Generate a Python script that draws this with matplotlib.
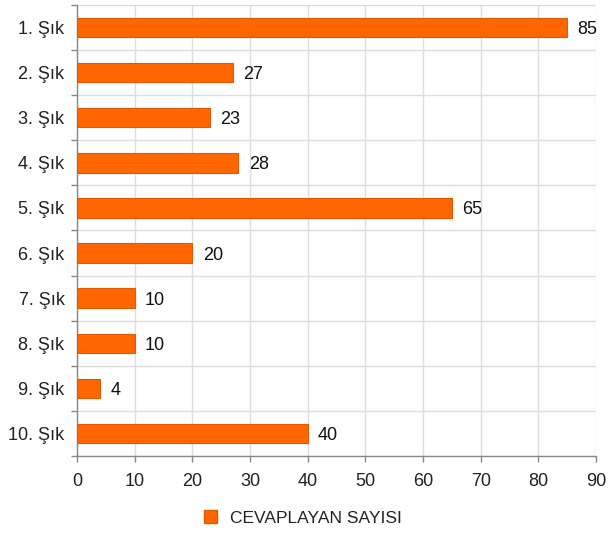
import matplotlib
matplotlib.use("Agg")
import matplotlib.pyplot as plt
import numpy as np
from matplotlib.patches import Patch

plt.rcParams['font.family'] = ['Liberation Sans', 'DejaVu Sans']

categories = ["1. Şık", "2. Şık", "3. Şık", "4. Şık", "5. Şık",
              "6. Şık", "7. Şık", "8. Şık", "9. Şık", "10. Şık"]
values = [85, 27, 23, 28, 65, 20, 10, 10, 4, 40]
xticks = [0, 10, 20, 30, 40, 50, 60, 70, 80, 90]
series_name = "CEVAPLAYAN SAYISI"

bar_color = "#FF6600"
edge_color = "#E05A00"
fs = 13

fig = plt.figure(figsize=(6.09, 5.33), dpi=100)
ax = fig.add_axes([77/609, 1-456/533, (596-77)/609, (456-5)/533])

y = np.arange(len(categories))
ax.barh(y, values, height=0.43, color=bar_color, edgecolor=edge_color, linewidth=0.8, zorder=3)
for yi, v in zip(y, values):
    ax.text(v + 1.8, yi, str(v), va='center_baseline', ha='left', fontsize=fs, color='#111111')

ax.set_ylim(len(categories) - 0.5, -0.5)
ax.set_xlim(0, 90)
ax.set_xticks(xticks)
ax.set_yticks(y)
ax.set_yticklabels(categories)
ax.set_yticks(np.arange(-0.5, len(categories) + 0.5, 1), minor=True)

ax.tick_params(axis='y', which='major', length=0, pad=9, labelsize=fs, labelcolor='#222222')
ax.tick_params(axis='y', which='minor', length=4, color='#888888', width=1)
ax.tick_params(axis='x', which='major', length=4, color='#888888', width=1, pad=8,
               labelsize=fs, labelcolor='#222222')

ax.grid(axis='x', which='major', color='#dddddd', linewidth=1, zorder=0)
ax.grid(axis='y', which='minor', color='#dddddd', linewidth=1, zorder=0)
ax.set_axisbelow(True)

for s in ['top', 'right']:
    ax.spines[s].set_visible(False)
for s in ['left', 'bottom']:
    ax.spines[s].set_color('#888888')
    ax.spines[s].set_linewidth(1)

handle = Patch(facecolor=bar_color, edgecolor=edge_color, label=series_name)
fig.legend(handles=[handle], loc='center', bbox_to_anchor=(303/609, 1-518/533),
           frameon=False, fontsize=12.5, handlelength=0.75, handleheight=0.75,
           handletextpad=0.7, labelcolor='#222222')

fig.savefig("out.png", dpi=100)
